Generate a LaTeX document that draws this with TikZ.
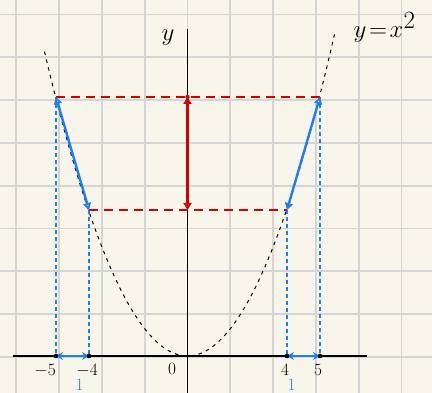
\documentclass[tikz,border=0pt]{standalone}
\usepackage{xcolor}
\usepackage{tikz}
\usetikzlibrary{positioning, arrows.meta, calc}
\definecolor{paper}{RGB}{248, 246, 234}
\definecolor{gridgray}{RGB}{213, 213, 213}
\definecolor{mred}{RGB}{212, 0, 0}
\definecolor{mblue}{RGB}{30, 128, 240}

\tikzset{
  gridline/.style={draw=gridgray, line width=1.8pt},
  axisline/.style={draw=black, line width=1.2pt},
  curveline/.style={draw=black, line width=1pt, dash pattern=on 3.5pt off 4.5pt},
  levelline/.style={draw=mred, line width=2.4pt, dash pattern=on 9pt off 6pt},
  footline/.style={draw=mblue, line width=1.4pt, dash pattern=on 4pt off 3pt},
  redarrow/.style={draw=mred, line width=2.4pt, {Triangle[open, length=7pt, width=8pt]}-{Triangle[open, length=7pt, width=8pt]}},
  bluearrow/.style={draw=mblue, line width=2.4pt, {Triangle[open, length=7pt, width=8pt]}-{Triangle[open, length=7pt, width=8pt]}},
  spanarrow/.style={draw=mblue, line width=2.4pt, {Stealth[length=7pt, width=8pt]}-{Stealth[length=7pt, width=8pt]}},
  ticklabel/.style={font=\LARGE, inner sep=0pt},
}

\begin{document}
\begin{tikzpicture}[x=1pt, y=1pt]
\useasboundingbox[fill=paper] (-187.5,-37) rectangle (244.5,356);
% grid
\foreach \i in {-4,...,5}
  \draw[gridline] (\i*42.8,-37) -- (\i*42.8,356);
\foreach \j in {0,...,8}
  \draw[gridline] (-187.5,-1+\j*42.8) -- (244.5,-1+\j*42.8);
% axes
\coordinate (O) at (0,0);
\draw[axisline] (-174.5,0) -- (179.5,0);
\draw[axisline] (0,-37) -- (0,327);
\node[font=\fontsize{24}{24}\selectfont, inner sep=0pt] (ylab) at (-19.5,318) {$y$};
\node[font=\fontsize{38}{38}\selectfont, inner sep=0pt] (flab) at (197,329) {$y\!=\!x^2$};
% parabola
\draw[curveline] plot[domain=-143:147, samples=60, smooth] (\x, {(0.122*\x)*(0.122*\x)});
% points
\coordinate (A) at (-131.5,259);
\coordinate (B) at (-98.5,146);
\coordinate (C) at (99.5,146);
\coordinate (D) at (132.5,259);
\coordinate (T) at (0,259);
\coordinate (M) at (0,146);
\coordinate (a) at (-131.5,0);
\coordinate (b) at (-98.5,0);
\coordinate (c) at (99.5,0);
\coordinate (d) at (132.5,0);
% levels
\draw[footline] (A) -- (a);
\draw[footline] (B) -- (b);
\draw[footline] (C) -- (c);
\draw[footline] (D) -- (d);
\draw[levelline] (A) -- (D);
\draw[levelline] (B) -- (C);
\draw[redarrow] (M) -- (T);
\fill[mred] (T) circle (2.2pt);
\draw[bluearrow] (B) -- (A);
\draw[bluearrow] (C) -- (D);
\draw[spanarrow] (a) -- (b);
\draw[spanarrow] (c) -- (d);
\foreach \p in {a,b,c,d}
  \fill (\p) circle (2.3pt);
% labels
\node[ticklabel] (l5) at (-142.5,-15) {$-5$};
\node[ticklabel] (l4) at (-100.5,-15) {$-4$};
\node[ticklabel] (l0) at (-15.5,-13) {$0$};
\node[ticklabel] (r4) at (97.5,-14) {$4$};
\node[ticklabel] (r5) at (130.5,-14) {$5$};
\node[ticklabel, text=mblue] (w1) at (-108,-28.5) {$1$};
\node[ticklabel, text=mblue] (w2) at (104,-28.5) {$1$};
\end{tikzpicture}
\end{document}
